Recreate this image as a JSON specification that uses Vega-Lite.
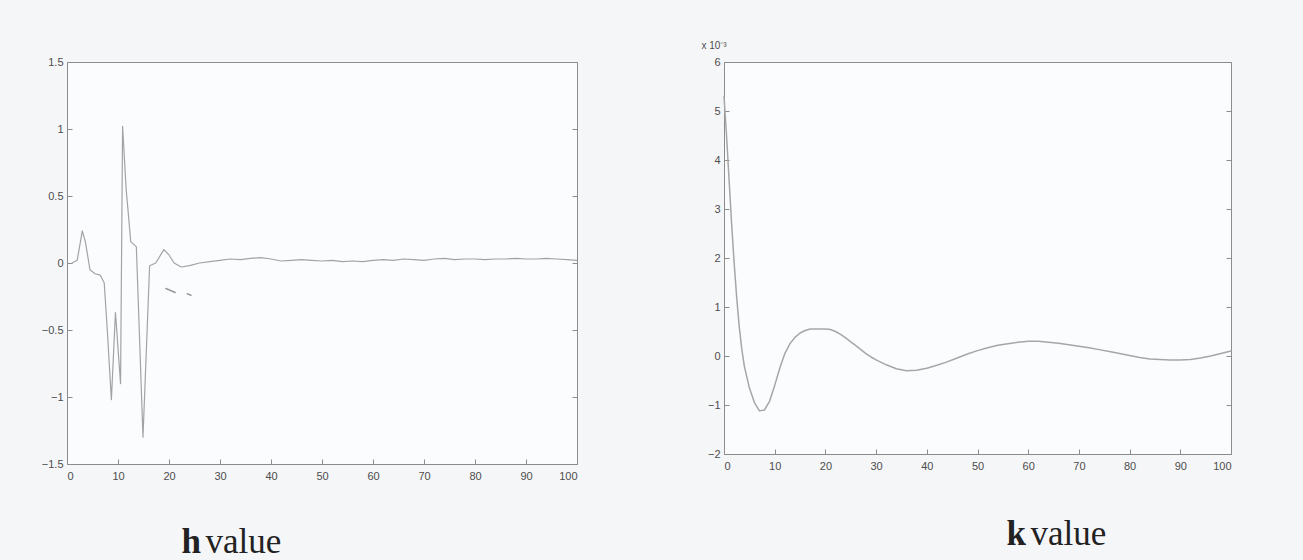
{
  "$schema": "https://vega.github.io/schema/vega-lite/v6.json",
  "background": "#f5f6f8",
  "padding": {"left": 40, "top": 40, "right": 71, "bottom": 0},
  "bounds": "flush",
  "spacing": 147,
  "config": {
    "view": {"stroke": "#8c8c8c", "strokeWidth": 1, "fill": "#fbfcfd"},
    "axis": {
      "domainColor": "#8c8c8c",
      "tickColor": "#8c8c8c",
      "labelColor": "#4d4d4d",
      "labelFont": "Liberation Sans",
      "labelFontSize": 11,
      "grid": false,
      "tickSize": -5,
      "titleFont": "Liberation Serif",
      "titleFontSize": 35,
      "titleColor": "#222222",
      "titleAlign": "left",
      "titleBaseline": "alphabetic",
      "titleAngle": 0
    },
    "axisX": {"labelPadding": 11},
    "axisY": {"labelPadding": 9},
    "line": {"strokeCap": "round", "strokeJoin": "round"}
  },
  "datasets": {
    "h": [
      {"x": 1, "y": 0}, {"x": 2, "y": 0.02}, {"x": 3, "y": 0.24}, {"x": 3.6, "y": 0.16},
      {"x": 4.5, "y": -0.05}, {"x": 5.5, "y": -0.08}, {"x": 6.5, "y": -0.09}, {"x": 7.3, "y": -0.15},
      {"x": 7.9, "y": -0.5}, {"x": 8.7, "y": -1.02}, {"x": 9.5, "y": -0.37}, {"x": 10.5, "y": -0.9},
      {"x": 10.9, "y": 1.02}, {"x": 11.6, "y": 0.55}, {"x": 12.5, "y": 0.16}, {"x": 13.6, "y": 0.12},
      {"x": 14.9, "y": -1.3}, {"x": 16.2, "y": -0.02}, {"x": 17.4, "y": 0.0}, {"x": 19, "y": 0.1},
      {"x": 20, "y": 0.06}, {"x": 21, "y": 0.0}, {"x": 22.4, "y": -0.03}, {"x": 24, "y": -0.02},
      {"x": 26, "y": 0.0}, {"x": 28, "y": 0.01}, {"x": 30, "y": 0.02}, {"x": 32, "y": 0.03},
      {"x": 34, "y": 0.025}, {"x": 36, "y": 0.035}, {"x": 38, "y": 0.04}, {"x": 40, "y": 0.03},
      {"x": 42, "y": 0.015}, {"x": 44, "y": 0.02}, {"x": 46, "y": 0.025}, {"x": 48, "y": 0.02},
      {"x": 50, "y": 0.015}, {"x": 52, "y": 0.02}, {"x": 54, "y": 0.01}, {"x": 56, "y": 0.015},
      {"x": 58, "y": 0.01}, {"x": 60, "y": 0.02}, {"x": 62, "y": 0.025}, {"x": 64, "y": 0.02},
      {"x": 66, "y": 0.03}, {"x": 68, "y": 0.025}, {"x": 70, "y": 0.02}, {"x": 72, "y": 0.03},
      {"x": 74, "y": 0.035}, {"x": 76, "y": 0.025}, {"x": 78, "y": 0.03}, {"x": 80, "y": 0.03},
      {"x": 82, "y": 0.025}, {"x": 84, "y": 0.03}, {"x": 86, "y": 0.03}, {"x": 88, "y": 0.035},
      {"x": 90, "y": 0.03}, {"x": 92, "y": 0.03}, {"x": 94, "y": 0.035}, {"x": 96, "y": 0.03},
      {"x": 98, "y": 0.025}, {"x": 100, "y": 0.02}
    ],
    "hmarks": [
      {"seg": "a", "x": 19.4, "y": -0.19}, {"seg": "a", "x": 21.2, "y": -0.22},
      {"seg": "b", "x": 23.6, "y": -0.23}, {"seg": "b", "x": 24.3, "y": -0.24}
    ],
    "k": [
      {"x": 0, "y": 5.3}, {"x": 0.5, "y": 4.5}, {"x": 1, "y": 3.6}, {"x": 1.5, "y": 2.7},
      {"x": 2, "y": 1.9}, {"x": 2.5, "y": 1.2}, {"x": 3, "y": 0.6}, {"x": 3.5, "y": 0.15},
      {"x": 4, "y": -0.2}, {"x": 5, "y": -0.65}, {"x": 6, "y": -0.95}, {"x": 7, "y": -1.12},
      {"x": 8, "y": -1.1}, {"x": 9, "y": -0.92}, {"x": 10, "y": -0.6}, {"x": 11, "y": -0.25},
      {"x": 12, "y": 0.05}, {"x": 13, "y": 0.25}, {"x": 14, "y": 0.38}, {"x": 15, "y": 0.47},
      {"x": 16, "y": 0.52}, {"x": 17, "y": 0.55}, {"x": 18, "y": 0.55}, {"x": 19, "y": 0.55},
      {"x": 20, "y": 0.55}, {"x": 21, "y": 0.54}, {"x": 22, "y": 0.5}, {"x": 23, "y": 0.44},
      {"x": 24, "y": 0.37}, {"x": 25, "y": 0.29}, {"x": 26, "y": 0.21}, {"x": 27, "y": 0.13},
      {"x": 28, "y": 0.05}, {"x": 29, "y": -0.02}, {"x": 30, "y": -0.08}, {"x": 32, "y": -0.18},
      {"x": 34, "y": -0.26}, {"x": 36, "y": -0.3}, {"x": 38, "y": -0.29}, {"x": 40, "y": -0.25},
      {"x": 42, "y": -0.19}, {"x": 44, "y": -0.12}, {"x": 46, "y": -0.04}, {"x": 48, "y": 0.04},
      {"x": 50, "y": 0.11}, {"x": 52, "y": 0.17}, {"x": 54, "y": 0.22}, {"x": 56, "y": 0.25},
      {"x": 58, "y": 0.28}, {"x": 60, "y": 0.3}, {"x": 62, "y": 0.3}, {"x": 64, "y": 0.28},
      {"x": 66, "y": 0.26}, {"x": 68, "y": 0.23}, {"x": 70, "y": 0.2}, {"x": 72, "y": 0.17},
      {"x": 74, "y": 0.13}, {"x": 76, "y": 0.09}, {"x": 78, "y": 0.05}, {"x": 80, "y": 0.01},
      {"x": 82, "y": -0.03}, {"x": 84, "y": -0.06}, {"x": 86, "y": -0.07}, {"x": 88, "y": -0.08},
      {"x": 90, "y": -0.08}, {"x": 92, "y": -0.07}, {"x": 94, "y": -0.04}, {"x": 96, "y": 0.0},
      {"x": 98, "y": 0.05}, {"x": 100, "y": 0.1}
    ]
  },
  "hconcat": [
    {
      "width": 510,
      "height": 402,
      "layer": [
        {
          "data": {"name": "h"},
          "mark": {"type": "line", "color": "#a3a3a3", "strokeWidth": 1.2},
          "encoding": {
            "x": {
              "field": "x", "type": "quantitative",
              "scale": {"domain": [0, 100], "nice": false},
              "axis": {
                "orient": "bottom",
                "values": [0, 10, 20, 30, 40, 50, 60, 70, 80, 90, 100],
                "title": "h", "titleFontWeight": "bold", "titleX": 114, "titleY": 88
              }
            },
            "y": {
              "field": "y", "type": "quantitative",
              "scale": {"domain": [-1.5, 1.5], "nice": false, "zero": false},
              "axis": {
                "orient": "left",
                "values": [-1.5, -1, -0.5, 0, 0.5, 1, 1.5],
                "format": "~g", "title": null
              }
            }
          }
        },
        {
          "data": {"name": "hmarks"},
          "mark": {"type": "line", "color": "#9a9a9a", "strokeWidth": 1.6},
          "encoding": {
            "x": {
              "field": "x", "type": "quantitative",
              "scale": {"domain": [0, 100], "nice": false},
              "axis": {
                "orient": "bottom", "domain": false, "ticks": false, "labels": false,
                "title": "value", "titleFontWeight": "normal", "titleX": 138, "titleY": 88
              }
            },
            "y": {
              "field": "y", "type": "quantitative",
              "scale": {"domain": [-1.5, 1.5], "nice": false, "zero": false},
              "axis": {
                "orient": "right", "labels": false, "domain": false, "title": null,
                "values": [-1.5, -1, -0.5, 0, 0.5, 1, 1.5]
              }
            },
            "detail": {"field": "seg", "type": "nominal"}
          }
        }
      ],
      "resolve": {"axis": {"x": "independent", "y": "independent"}}
    },
    {
      "width": 507,
      "height": 392,
      "title": {
        "text": "x 10⁻³", "anchor": "start", "dx": -6, "offset": 5,
        "font": "Liberation Sans", "fontSize": 10, "fontWeight": "normal", "color": "#4d4d4d"
      },
      "data": {"name": "k"},
      "layer": [
        {
          "mark": {"type": "line", "color": "#a6a6a6", "strokeWidth": 1.5},
          "encoding": {
            "x": {
              "field": "x", "type": "quantitative",
              "scale": {"domain": [0, 100], "nice": false},
              "axis": {
                "orient": "bottom",
                "values": [0, 10, 20, 30, 40, 50, 60, 70, 80, 90, 100],
                "title": "k", "titleFontWeight": "bold", "titleX": 282, "titleY": 90
              }
            },
            "y": {
              "field": "y", "type": "quantitative",
              "scale": {"domain": [-2, 6], "nice": false, "zero": false},
              "axis": {
                "orient": "left",
                "values": [-2, -1, 0, 1, 2, 3, 4, 5, 6],
                "format": "d", "title": null
              }
            }
          }
        },
        {
          "mark": {"type": "line", "color": "#a6a6a6", "strokeWidth": 1.5, "opacity": 0},
          "encoding": {
            "x": {
              "field": "x", "type": "quantitative",
              "scale": {"domain": [0, 100], "nice": false},
              "axis": {
                "orient": "bottom", "domain": false, "ticks": false, "labels": false,
                "title": "value", "titleFontWeight": "normal", "titleX": 306, "titleY": 90
              }
            },
            "y": {
              "field": "y", "type": "quantitative",
              "scale": {"domain": [-2, 6], "nice": false, "zero": false},
              "axis": {
                "orient": "right", "labels": false, "domain": false, "title": null,
                "values": [-2, -1, 0, 1, 2, 3, 4, 5, 6]
              }
            }
          }
        }
      ],
      "resolve": {"axis": {"x": "independent", "y": "independent"}}
    }
  ]
}
